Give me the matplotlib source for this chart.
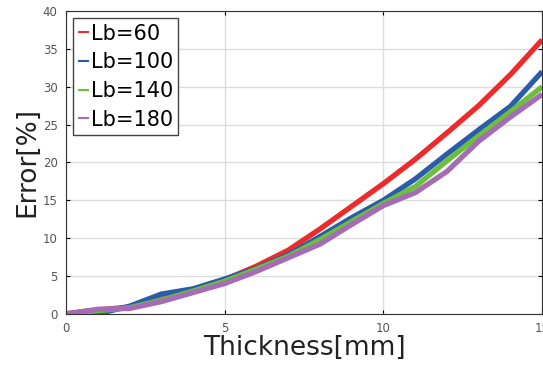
import matplotlib
matplotlib.use("Agg")
import matplotlib.pyplot as plt

# Data
thickness = [0, 1, 2, 3, 4, 5, 6, 7, 8, 9, 10, 11, 12, 13, 14, 15]
err_lb60 = [0, 0.5, 0.9, 1.9, 3.1, 4.5, 6.3, 8.4, 11.2, 14.2, 17.2, 20.4, 23.9, 27.5, 31.6, 36.2]
err_lb100 = [0, 0.0, 1.0, 2.6, 3.3, 4.6, 6.0, 7.8, 10.2, 12.7, 15.0, 17.8, 21.1, 24.3, 27.4, 32.0]
err_lb140 = [0, 0.4, 0.8, 1.8, 3.0, 4.3, 5.9, 7.6, 9.8, 12.2, 14.6, 16.8, 20.2, 23.5, 26.7, 30.0]
err_lb180 = [0, 0.6, 0.7, 1.6, 2.8, 4.0, 5.6, 7.4, 9.2, 11.8, 14.3, 16.0, 18.8, 22.8, 26.0, 29.0]
labels = ["Lb=60", "Lb=100", "Lb=140", "Lb=180"]
colors = ["#ee2a2a", "#2a5caa", "#6cbf3c", "#a66bb5"]

fig = plt.figure(figsize=(5.43, 3.67), dpi=100)
ax = fig.add_axes([0.1215, 0.145, 0.877, 0.825])

for y, lab, c in zip([err_lb60, err_lb100, err_lb140, err_lb180], labels, colors):
    ax.plot(thickness, y, color=c, lw=3.8, label=lab, solid_capstyle="butt")

ax.set_xlim(0, 15)
ax.set_ylim(0, 40)
ax.set_xticks([0, 5, 10, 15])
ax.set_yticks(range(0, 41, 5))
ax.grid(True, color="#dddddd", lw=1)
ax.tick_params(direction="in", labelsize=8.5, labelcolor="#555555", right=True, top=True,
               length=3, pad=6)
for s in ax.spines.values():
    s.set_color("#333333")
ax.set_xlabel("Thickness[mm]", fontsize=19, color="#222222", labelpad=0)
ax.set_ylabel("Error[%]", fontsize=19, color="#222222", labelpad=2)

leg = ax.legend(loc="upper left", fontsize=15, handlelength=0.5, handletextpad=0.1,
                labelspacing=0.42, borderpad=0.25, fancybox=False, framealpha=1,
                edgecolor="#444444", borderaxespad=0.35)
for h in leg.get_lines():
    h.set_linewidth(1.5)

fig.savefig("out.png", dpi=100)
